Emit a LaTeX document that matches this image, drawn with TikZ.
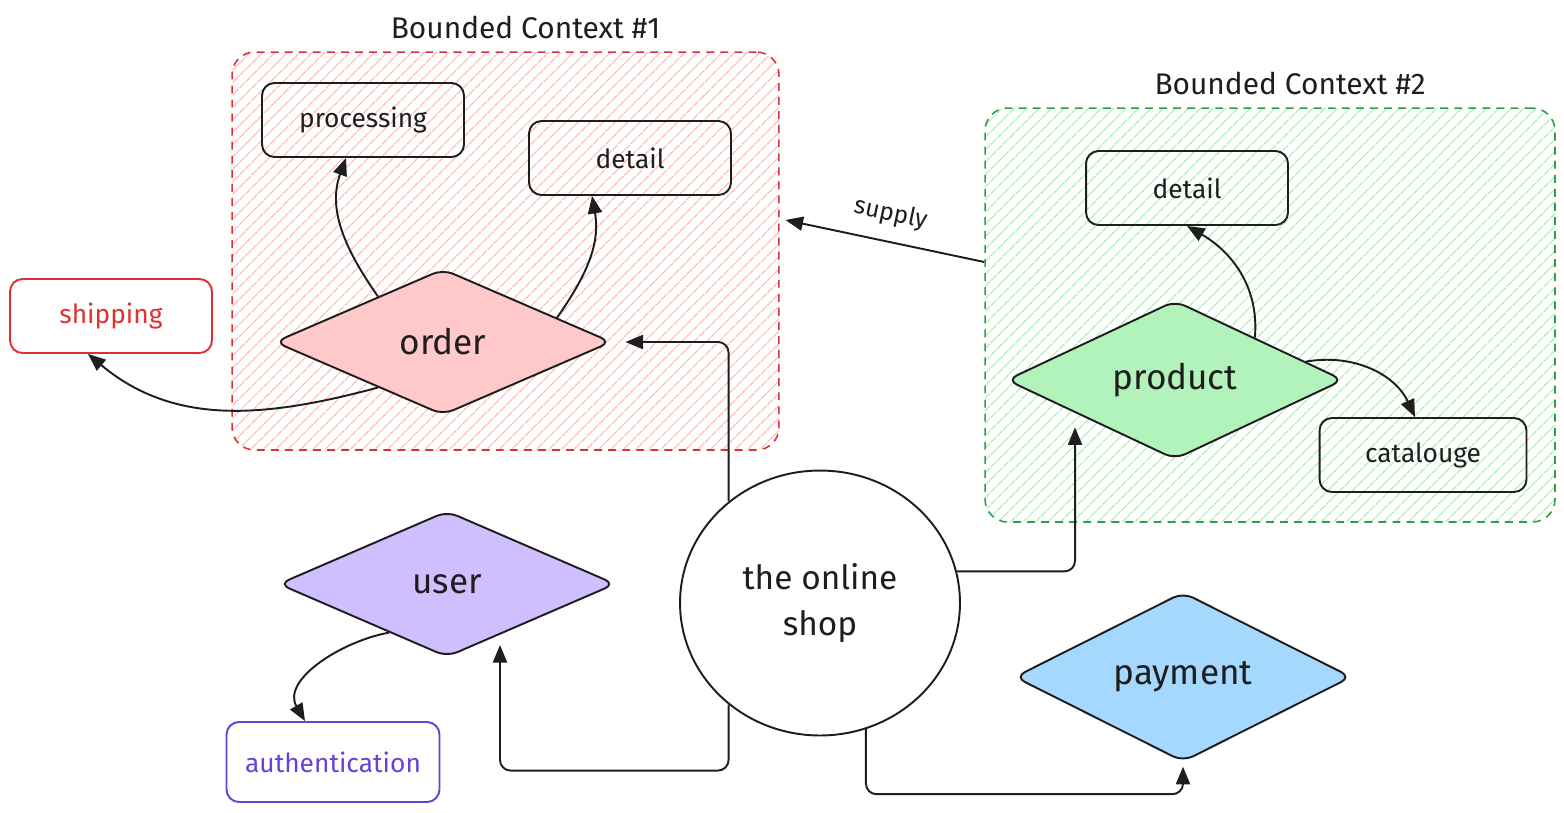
\documentclass[tikz,border=0pt]{standalone}
\usepackage{fontspec}
\setmainfont{Fira Sans}
\usetikzlibrary{positioning,shapes.geometric,arrows.meta,patterns.meta}

\definecolor{inkdark}{HTML}{1E1E1E}
\definecolor{ctxred}{HTML}{E03131}
\definecolor{hatchred}{HTML}{FFB8B8}
\definecolor{ctxgreen}{HTML}{2F9E44}
\definecolor{hatchgreen}{HTML}{A9EDB3}
\definecolor{fillorder}{HTML}{FFC9C9}
\definecolor{fillproduct}{HTML}{B2F2BB}
\definecolor{filluser}{HTML}{D0BFFF}
\definecolor{fillpayment}{HTML}{A5D8FF}
\definecolor{authviolet}{HTML}{6741D9}

\tikzset{
  context/.style={dash pattern=on 4.5pt off 3.5pt, line width=0.9pt, rounded corners=0.45cm,
    pattern={Lines[angle=45,distance=5pt,line width=0.6pt]}},
  title/.style={font=\fontsize{17}{20}\selectfont, text=inkdark},
  box/.style={draw=inkdark, line width=1.1pt, rounded corners=0.25cm, minimum width=4.04cm,
    minimum height=1.48cm, font=\fontsize{15}{18}\selectfont, text=inkdark},
  entity/.style={diamond, draw=inkdark, line width=1.1pt, rounded corners=0.22cm, inner sep=0pt,
    minimum width=6.74cm, minimum height=2.92cm, font=\fontsize{20}{24}\selectfont, text=inkdark},
  conn/.style={draw=inkdark, line width=1.1pt, rounded corners=6pt,
    -{Triangle[length=10pt,width=8pt]}}
}

\begin{document}
\begin{tikzpicture}[x=0.02cm, y=-0.02cm]
  \useasboundingbox (0,0) rectangle (1564,812);

  % bounded contexts
  \node[context, draw=ctxred, pattern color=hatchred, minimum width=10.94cm, minimum height=7.96cm] (ctxone) at (505.5,251) {};
  \node[context, draw=ctxgreen, pattern color=hatchgreen, minimum width=11.4cm, minimum height=8.28cm] (ctxtwo) at (1270,315) {};
  \node[title] (titleone) [above=0.12cm of ctxone, xshift=0.4cm] {Bounded Context \#1};
  \node[title] (titletwo) [above=0.12cm of ctxtwo, xshift=0.4cm] {Bounded Context \#2};

  % entities
  \node[entity, fill=fillorder] (order) at (443,342) {order};
  \node[entity, fill=fillproduct] (product) at (1175,380) {product};
  \node[entity, fill=filluser] (user) at (447,584) {user};
  \node[entity, fill=fillpayment] (payment) at (1183,677) {payment};

  \node[box] (processing) at (363,120) {processing};
  \node[box] (orderdetail) at (630,158) {detail};
  \node[box, draw=ctxred, text=ctxred] (shipping) at (111,316) {shipping};
  \node[box] (productdetail) at (1187,188) {detail};
  \node[box, minimum width=4.14cm] (catalouge) at (1423,455) {catalouge};
  \node[box, draw=authviolet, text=authviolet, minimum width=4.26cm, minimum height=1.6cm] (auth) at (333,762) {authentication};

  \node[ellipse, draw=inkdark, line width=1.1pt, minimum width=5.6cm, minimum height=5.3cm,
    align=center, font=\fontsize{19}{26}\selectfont, text=inkdark] (shop) at (820,603) {the online\\shop};

  % arrow end points
  \coordinate (userin) at ([xshift=1.06cm, yshift=0.26cm]user.south);
  \coordinate (prodin) at ([xshift=-2cm, yshift=0.66cm]product.south);
  \coordinate (payin) at ([yshift=-0.08cm]payment.south);

  % connectors
  \draw[conn] (order.145) to[out=125, in=-110] ([xshift=-0.34cm]processing.south);
  \draw[conn] (order.12) to[out=55, in=-80] ([xshift=-0.76cm]orderdetail.south);
  \draw[conn] (order.215) to[out=195, in=-40] ([xshift=-0.46cm]shipping.south);
  \draw[conn] (product.28) to[out=85, in=-30] (productdetail.south);
  \draw[conn] (product.8) to[out=10, in=115] ([xshift=-0.16cm]catalouge.north);
  \draw[conn] (user.220) to[out=190, in=120] ([xshift=-0.56cm]auth.north);

  \draw[conn] (shop.132) |- ([xshift=0.26cm]order.east);
  \draw[conn] (shop.228) -- ++(0,66) -| (userin);
  \draw[conn] (shop.-70) -- ++(0,65) -| (payin);
  \draw[conn] (shop.13) -| (prodin);

  \draw[conn] ([yshift=1.06cm]ctxtwo.west) -- node[sloped, above=5pt, font=\fontsize{14}{17}\selectfont, text=inkdark] (supply) {supply} ([xshift=0.12cm, yshift=0.62cm]ctxone.east);
\end{tikzpicture}
\end{document}
